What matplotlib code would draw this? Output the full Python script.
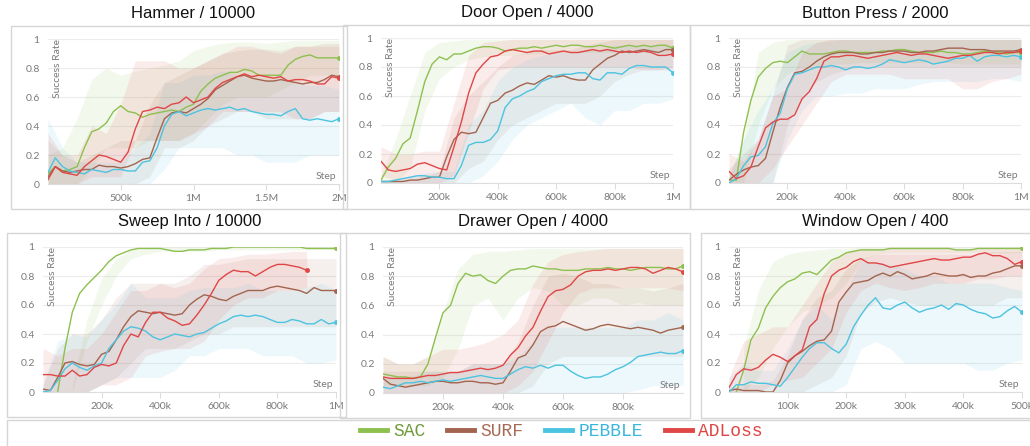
import numpy as np
import matplotlib
matplotlib.use("Agg")
import matplotlib.pyplot as plt
from matplotlib.lines import Line2D
from matplotlib.patches import Rectangle

W, H = 1030, 446
nan = np.nan

methods = ["SAC", "SURF", "PEBBLE", "ADLoss"]
line_colors = ["#8dc04f", "#a3644f", "#4cc3e0", "#e04646"]
text_colors = ["#6f9a3a", "#a86a55", "#3bb6dc", "#e04444"]

# ---------------- Hammer / 10000 (0 - 2M) ----------------
hammer_sac = [0.07, 0.12, 0.09, 0.10, 0.12, 0.25, 0.36, 0.38, 0.42, 0.50, 0.54, 0.50, 0.49, 0.46, 0.48, 0.49, 0.50, 0.51, 0.50, 0.53, 0.55,
              0.64, 0.69, 0.73, 0.75, 0.77, 0.77, 0.79, 0.78, 0.75, 0.75, 0.75, 0.75, 0.82, 0.86, 0.88, 0.89, 0.87, 0.87, 0.87, 0.87]
hammer_surf = [0.05, 0.12, 0.09, 0.08, 0.09, 0.10, 0.10, 0.13, 0.12, 0.12, 0.11, 0.12, 0.14, 0.17, 0.18, 0.32, 0.45, 0.49, 0.50, 0.49, 0.52,
               0.55, 0.59, 0.65, 0.68, 0.71, 0.74, 0.75, 0.73, 0.72, 0.71, 0.71, 0.72, 0.71, 0.70, 0.69, 0.70, 0.70, 0.72, 0.75, 0.74]
hammer_pebble = [0.08, 0.18, 0.12, 0.09, 0.08, 0.07, 0.10, 0.09, 0.08, 0.10, 0.10, 0.09, 0.09, 0.15, 0.16, 0.25, 0.40, 0.48, 0.50, 0.47, 0.49,
                 0.51, 0.52, 0.51, 0.52, 0.53, 0.51, 0.52, 0.50, 0.49, 0.48, 0.48, 0.47, 0.50, 0.52, 0.45, 0.44, 0.45, 0.44, 0.43, 0.45]
hammer_adloss = [0.03, 0.12, 0.08, 0.07, 0.06, 0.12, 0.16, 0.20, 0.19, 0.17, 0.15, 0.22, 0.38, 0.50, 0.51, 0.53, 0.52, 0.55, 0.56, 0.60, 0.56,
                 0.58, 0.60, 0.66, 0.70, 0.72, 0.74, 0.76, 0.74, 0.75, 0.74, 0.73, 0.74, 0.71, 0.72, 0.72, 0.71, 0.69, 0.69, 0.74, 0.73]
hammer_sac_lo = [0.0, 0.0, 0.0, 0.1, 0.25, 0.25, 0.25, 0.3, 0.3, 0.3, 0.35, 0.45, 0.55, 0.6, 0.6, 0.6, 0.65, 0.7, 0.75, 0.75, 0.75]
hammer_sac_hi = [0.2, 0.25, 0.45, 0.72, 0.8, 0.75, 0.78, 0.8, 0.82, 0.85, 0.92, 0.95, 0.97, 0.98, 0.98, 0.97, 0.98, 0.99, 0.99, 0.99, 0.99]
hammer_surf_lo = [0.0, 0.0, 0.0, 0.0, 0.0, 0.0, 0.0, 0.05, 0.25, 0.25, 0.3, 0.4, 0.45, 0.5, 0.5, 0.45, 0.45, 0.45, 0.45, 0.5, 0.5]
hammer_surf_hi = [0.3, 0.2, 0.15, 0.2, 0.25, 0.3, 0.3, 0.55, 0.7, 0.75, 0.8, 0.85, 0.9, 0.92, 0.93, 0.93, 0.92, 0.95, 0.95, 0.97, 0.97]
hammer_pebble_lo = [0.0, 0.0, 0.0, 0.0, 0.0, 0.0, 0.0, 0.0, 0.1, 0.25, 0.25, 0.25, 0.25, 0.2, 0.2, 0.15, 0.15, 0.15, 0.2, 0.2, 0.2]
hammer_pebble_hi = [0.45, 0.25, 0.15, 0.15, 0.15, 0.15, 0.25, 0.35, 0.7, 0.7, 0.75, 0.75, 0.78, 0.75, 0.72, 0.72, 0.72, 0.7, 0.68, 0.68, 0.65]
hammer_adloss_lo = [0.0, 0.0, 0.0, 0.05, 0.05, 0.05, 0.3, 0.3, 0.3, 0.3, 0.35, 0.4, 0.5, 0.5, 0.5, 0.5, 0.5, 0.45, 0.45, 0.5, 0.5]
hammer_adloss_hi = [0.35, 0.2, 0.2, 0.4, 0.35, 0.55, 0.85, 0.85, 0.85, 0.8, 0.8, 0.85, 0.9, 0.95, 0.95, 0.92, 0.9, 0.95, 0.95, 0.95, 0.95]
hammer_ticks = [500e3, 1e6, 1.5e6, 2e6]
hammer_ticklabels = ["500k", "1M", "1.5M", "2M"]

# ---------------- Door Open / 4000 (0 - 1M) ----------------
door_sac = [0.02, 0.11, 0.17, 0.27, 0.31, 0.50, 0.70, 0.82, 0.87, 0.85, 0.89, 0.89, 0.91, 0.93, 0.94, 0.94, 0.93, 0.91, 0.92, 0.93, 0.93,
            0.94, 0.93, 0.94, 0.95, 0.94, 0.95, 0.95, 0.94, 0.94, 0.95, 0.94, 0.93, 0.94, 0.95, 0.94, 0.95, 0.94, 0.95, 0.95, 0.93]
door_surf = [0.01, 0.01, 0.01, 0.01, 0.02, 0.02, 0.03, 0.04, 0.04, 0.18, 0.30, 0.35, 0.34, 0.35, 0.45, 0.55, 0.57, 0.62, 0.64, 0.67, 0.69,
             0.68, 0.71, 0.74, 0.73, 0.74, 0.72, 0.71, 0.71, 0.78, 0.82, 0.86, 0.88, 0.91, 0.90, 0.91, 0.92, 0.91, 0.90, 0.92, 0.92]
door_pebble = [0.01, 0.01, 0.02, 0.03, 0.04, 0.05, 0.05, 0.04, 0.04, 0.03, 0.03, 0.12, 0.26, 0.28, 0.28, 0.30, 0.36, 0.52, 0.58, 0.60, 0.63,
               0.65, 0.70, 0.72, 0.74, 0.75, 0.75, 0.76, 0.76, 0.72, 0.71, 0.76, 0.76, 0.75, 0.79, 0.81, 0.81, 0.80, 0.80, 0.80, 0.76]
door_adloss = [0.15, 0.09, 0.08, 0.09, 0.10, 0.13, 0.14, 0.12, 0.10, 0.09, 0.25, 0.42, 0.62, 0.76, 0.82, 0.87, 0.88, 0.91, 0.92, 0.91, 0.90,
               0.91, 0.91, 0.89, 0.90, 0.91, 0.90, 0.90, 0.91, 0.92, 0.91, 0.92, 0.91, 0.90, 0.91, 0.90, 0.91, 0.90, 0.88, 0.88, 0.89]
door_sac_lo = [0.0, 0.0, 0.1, 0.5, 0.72, 0.8, 0.85, 0.87, 0.88, 0.88, 0.89, 0.89, 0.9, 0.9, 0.9, 0.9, 0.9, 0.9, 0.9, 0.9, 0.88]
door_sac_hi = [0.05, 0.3, 0.6, 0.9, 0.97, 0.98, 0.99, 0.99, 0.99, 0.99, 0.99, 0.99, 0.99, 0.99, 0.99, 0.99, 0.99, 0.99, 0.99, 0.99, 0.99]
door_surf_lo = [0.0, 0.0, 0.0, 0.0, 0.0, 0.0, 0.1, 0.15, 0.3, 0.4, 0.45, 0.5, 0.55, 0.55, 0.55, 0.6, 0.7, 0.75, 0.78, 0.78, 0.8]
door_surf_hi = [0.02, 0.02, 0.03, 0.05, 0.08, 0.45, 0.6, 0.7, 0.8, 0.88, 0.9, 0.92, 0.92, 0.92, 0.95, 0.97, 0.99, 0.99, 0.99, 0.99, 0.99]
door_pebble_lo = [0.0, 0.0, 0.0, 0.0, 0.0, 0.0, 0.0, 0.05, 0.15, 0.3, 0.4, 0.45, 0.5, 0.55, 0.45, 0.4, 0.5, 0.5, 0.55, 0.55, 0.58]
door_pebble_hi = [0.02, 0.03, 0.05, 0.07, 0.08, 0.08, 0.4, 0.5, 0.7, 0.8, 0.85, 0.88, 0.9, 0.9, 0.92, 0.92, 0.95, 0.95, 0.95, 0.95, 0.95]
door_adloss_lo = [0.05, 0.02, 0.0, 0.0, 0.0, 0.05, 0.35, 0.65, 0.78, 0.8, 0.8, 0.8, 0.8, 0.8, 0.8, 0.8, 0.8, 0.8, 0.78, 0.78, 0.78]
door_adloss_hi = [0.25, 0.2, 0.2, 0.22, 0.22, 0.55, 0.88, 0.97, 0.98, 0.99, 0.99, 0.99, 0.99, 0.99, 0.99, 0.99, 0.99, 0.99, 0.99, 0.99, 0.99]
million_ticks = [200e3, 400e3, 600e3, 800e3, 1e6]
million_ticklabels = ["200k", "400k", "600k", "800k", "1M"]

# ---------------- Button Press / 2000 (0 - 1M) ----------------
button_sac = [0.02, 0.02, 0.35, 0.57, 0.73, 0.79, 0.83, 0.84, 0.83, 0.87, 0.91, 0.89, 0.89, 0.89, 0.90, 0.91, 0.91, 0.90, 0.90, 0.90, 0.90,
              0.91, 0.91, 0.92, 0.92, 0.91, 0.90, 0.90, 0.90, 0.91, 0.90, 0.90, 0.89, 0.89, 0.90, 0.91, 0.90, 0.90, 0.89, 0.90, 0.90]
button_surf = [0.02, 0.06, 0.09, 0.11, 0.12, 0.17, 0.35, 0.52, 0.66, 0.76, 0.77, 0.80, 0.84, 0.87, 0.89, 0.90, 0.90, 0.90, 0.89, 0.89, 0.90,
               0.90, 0.91, 0.91, 0.91, 0.90, 0.90, 0.91, 0.91, 0.92, 0.93, 0.93, 0.93, 0.92, 0.92, 0.92, 0.91, 0.91, 0.91, 0.91, 0.92]
button_pebble = [0.00, 0.03, 0.12, 0.18, 0.19, 0.25, 0.41, 0.48, 0.65, 0.75, 0.76, 0.78, 0.80, 0.80, 0.81, 0.80, 0.78, 0.80, 0.80, 0.79, 0.80,
                 0.82, 0.85, 0.84, 0.83, 0.84, 0.85, 0.84, 0.82, 0.83, 0.84, 0.86, 0.86, 0.88, 0.84, 0.87, 0.88, 0.88, 0.87, 0.88, 0.87]
button_adloss = [0.08, 0.03, 0.05, 0.11, 0.25, 0.38, 0.42, 0.44, 0.44, 0.47, 0.58, 0.63, 0.72, 0.84, 0.87, 0.87, 0.88, 0.88, 0.87, 0.86, 0.87,
                 0.88, 0.89, 0.90, 0.89, 0.88, 0.89, 0.89, 0.88, 0.87, 0.86, 0.87, 0.88, 0.88, 0.89, 0.90, 0.90, 0.89, 0.90, 0.90, 0.91]
button_sac_lo = [0.0, 0.0, 0.4, 0.65, 0.75, 0.8, 0.8, 0.82, 0.82, 0.83, 0.83, 0.83, 0.83, 0.83, 0.83, 0.83, 0.82, 0.82, 0.82, 0.82, 0.82]
button_sac_hi = [0.05, 0.3, 0.9, 0.97, 0.99, 0.99, 0.99, 0.99, 0.99, 0.99, 0.99, 0.99, 0.99, 0.99, 0.99, 0.99, 0.99, 0.99, 0.99, 0.99, 0.99]
button_surf_lo = [0.0, 0.0, 0.0, 0.0, 0.4, 0.6, 0.7, 0.75, 0.78, 0.8, 0.8, 0.8, 0.8, 0.8, 0.8, 0.8, 0.8, 0.8, 0.8, 0.8, 0.8]
button_surf_hi = [0.1, 0.2, 0.3, 0.6, 0.95, 0.99, 0.99, 0.99, 0.99, 0.99, 0.99, 0.99, 0.99, 0.99, 0.99, 0.99, 0.99, 0.99, 0.99, 0.99, 0.99]
button_pebble_lo = [0.0, 0.0, 0.0, 0.0, 0.3, 0.5, 0.6, 0.6, 0.62, 0.62, 0.65, 0.65, 0.65, 0.68, 0.7, 0.7, 0.7, 0.7, 0.72, 0.72, 0.7]
button_pebble_hi = [0.05, 0.3, 0.5, 0.65, 0.9, 0.95, 0.97, 0.98, 0.99, 0.99, 0.99, 0.99, 0.99, 0.99, 0.99, 0.99, 0.99, 0.99, 0.99, 0.99, 0.99]
button_adloss_lo = [0.0, 0.0, 0.0, 0.1, 0.25, 0.4, 0.55, 0.7, 0.75, 0.75, 0.75, 0.75, 0.72, 0.72, 0.72, 0.72, 0.65, 0.65, 0.7, 0.72, 0.75]
button_adloss_hi = [0.2, 0.15, 0.3, 0.6, 0.65, 0.9, 0.97, 0.99, 0.99, 0.99, 0.99, 0.99, 0.99, 0.99, 0.99, 0.99, 0.99, 0.99, 0.99, 0.99, 0.99]

# ---------------- Sweep Into / 10000 (0 - 1M) ----------------
sweep_sac = [nan, nan, 0.0, 0.30, 0.55, 0.68, 0.74, 0.79, 0.84, 0.90, 0.94, 0.96, 0.98, 0.99, 0.99, 0.99, 0.99, 0.98, 0.97, 0.97, 0.98,
             0.98, 0.98, 0.99, 0.99, 0.99, 1.0, 1.0, 1.0, 1.0, 1.0, 1.0, 1.0, 1.0, 1.0, 1.0, 0.99, 0.99, 0.99, 0.99, 0.99]
sweep_surf = [0.02, 0.01, 0.10, 0.20, 0.21, 0.19, 0.18, 0.19, 0.26, 0.28, 0.36, 0.45, 0.52, 0.56, 0.55, 0.54, 0.55, 0.54, 0.53, 0.54, 0.60,
              0.64, 0.67, 0.66, 0.64, 0.63, 0.66, 0.68, 0.70, 0.70, 0.70, 0.72, 0.73, 0.72, 0.71, 0.70, 0.68, 0.72, 0.70, 0.70, 0.70]
sweep_pebble = [0.0, 0.01, 0.08, 0.16, 0.20, 0.17, 0.15, 0.18, 0.20, 0.30, 0.36, 0.42, 0.45, 0.44, 0.42, 0.38, 0.36, 0.38, 0.40, 0.39, 0.38,
                0.40, 0.41, 0.44, 0.47, 0.49, 0.52, 0.53, 0.52, 0.53, 0.52, 0.50, 0.48, 0.48, 0.50, 0.49, 0.47, 0.47, 0.50, 0.47, 0.48]
sweep_adloss = [0.12, 0.12, 0.11, 0.11, 0.15, 0.11, 0.12, 0.17, 0.19, 0.18, 0.20, 0.32, 0.40, 0.38, 0.48, 0.55, 0.55, 0.51, 0.49, 0.46, 0.47,
                0.53, 0.60, 0.68, 0.77, 0.81, 0.84, 0.83, 0.83, 0.80, 0.83, 0.86, 0.88, 0.88, 0.87, 0.86, 0.84]
sweep_sac_lo = [nan, nan, 0.0, 0.35, 0.6, 0.8, 0.92, 0.95, 0.97, 0.97, 0.97, 0.97, 0.98, 0.98, 0.98, 0.98, 0.98, 0.98, 0.98, 0.98, 0.98]
sweep_sac_hi = [nan, nan, 0.05, 0.5, 0.78, 0.92, 0.98, 0.99, 1.0, 1.0, 1.0, 1.0, 1.0, 1.0, 1.0, 1.0, 1.0, 1.0, 1.0, 1.0, 1.0]
sweep_surf_lo = [0.0, 0.0, 0.0, 0.0, 0.05, 0.1, 0.2, 0.3, 0.3, 0.3, 0.35, 0.4, 0.4, 0.45, 0.45, 0.45, 0.45, 0.45, 0.45, 0.45, 0.45]
sweep_surf_hi = [0.05, 0.3, 0.4, 0.4, 0.5, 0.65, 0.75, 0.75, 0.75, 0.75, 0.8, 0.88, 0.88, 0.9, 0.92, 0.92, 0.92, 0.92, 0.92, 0.92, 0.92]
sweep_pebble_lo = [0.0, 0.0, 0.0, 0.0, 0.05, 0.1, 0.1, 0.1, 0.1, 0.15, 0.25, 0.25, 0.3, 0.3, 0.3, 0.25, 0.25, 0.25, 0.2, 0.2, 0.22]
sweep_pebble_hi = [0.05, 0.35, 0.4, 0.38, 0.5, 0.6, 0.75, 0.65, 0.65, 0.65, 0.7, 0.72, 0.72, 0.72, 0.75, 0.7, 0.7, 0.7, 0.72, 0.75, 0.7]
sweep_adloss_lo = [0.0, 0.0, 0.0, 0.0, 0.05, 0.05, 0.1, 0.25, 0.28, 0.3, 0.3, 0.35, 0.5, 0.6, 0.65, 0.65, 0.7, 0.7, 0.72]
sweep_adloss_hi = [0.3, 0.25, 0.3, 0.3, 0.4, 0.55, 0.7, 0.7, 0.75, 0.72, 0.75, 0.85, 0.92, 0.93, 0.95, 0.95, 0.96, 0.97, 0.97]

# ---------------- Drawer Open / 4000 (0 - 1M) ----------------
drawer_sac = [0.13, 0.12, 0.11, 0.11, 0.10, 0.11, 0.20, 0.38, 0.55, 0.60, 0.75, 0.82, 0.80, 0.81, 0.77, 0.75, 0.80, 0.84, 0.85, 0.85, 0.87,
              0.86, 0.85, 0.85, 0.84, 0.84, 0.84, 0.85, 0.85, 0.85, 0.86, 0.85, 0.85, 0.84, 0.85, 0.86, 0.86, 0.86, 0.85, 0.85, 0.87]
drawer_surf = [0.10, 0.06, 0.05, 0.04, 0.05, 0.06, 0.07, 0.08, 0.08, 0.07, 0.07, 0.08, 0.08, 0.07, 0.07, 0.06, 0.07, 0.15, 0.24, 0.26, 0.33,
               0.42, 0.45, 0.46, 0.49, 0.47, 0.45, 0.43, 0.44, 0.46, 0.47, 0.46, 0.45, 0.44, 0.45, 0.44, 0.43, 0.41, 0.43, 0.44, 0.45]
drawer_pebble = [0.04, 0.03, 0.05, 0.07, 0.07, 0.08, 0.07, 0.08, 0.09, 0.08, 0.09, 0.10, 0.11, 0.12, 0.11, 0.10, 0.10, 0.13, 0.16, 0.18, 0.17,
                 0.19, 0.17, 0.19, 0.19, 0.15, 0.12, 0.10, 0.11, 0.11, 0.13, 0.16, 0.18, 0.21, 0.25, 0.26, 0.27, 0.28, 0.27, 0.27, 0.29]
drawer_adloss = [0.11, 0.10, 0.10, 0.10, 0.10, 0.11, 0.12, 0.12, 0.13, 0.14, 0.14, 0.15, 0.16, 0.17, 0.16, 0.17, 0.19, 0.26, 0.31, 0.39, 0.45,
                 0.56, 0.66, 0.70, 0.71, 0.74, 0.80, 0.83, 0.84, 0.84, 0.85, 0.84, 0.85, 0.86, 0.86, 0.85, 0.82, 0.84, 0.86, 0.85, 0.83]
drawer_sac_lo = [0.05, 0.05, 0.05, 0.05, 0.1, 0.3, 0.6, 0.65, 0.5, 0.65, 0.72, 0.7, 0.6, 0.6, 0.65, 0.65, 0.6, 0.62, 0.6, 0.6, 0.6]
drawer_sac_hi = [0.25, 0.2, 0.2, 0.25, 0.55, 0.85, 0.95, 0.97, 0.97, 0.98, 0.99, 0.99, 0.99, 0.99, 0.99, 0.99, 0.99, 0.99, 0.99, 0.99, 0.99]
drawer_surf_lo = [0.0, 0.0, 0.0, 0.0, 0.0, 0.0, 0.0, 0.0, 0.0, 0.0, 0.05, 0.2, 0.25, 0.25, 0.25, 0.25, 0.25, 0.25, 0.25, 0.25, 0.25]
drawer_surf_hi = [0.15, 0.15, 0.15, 0.15, 0.15, 0.15, 0.2, 0.2, 0.2, 0.35, 0.6, 0.8, 0.82, 0.8, 0.75, 0.75, 0.72, 0.72, 0.7, 0.72, 0.75]
drawer_pebble_lo = [0.0, 0.0, 0.0, 0.0, 0.0, 0.0, 0.0, 0.0, 0.0, 0.0, 0.0, 0.0, 0.0, 0.0, 0.0, 0.0, 0.0, 0.02, 0.05, 0.05, 0.05]
drawer_pebble_hi = [0.1, 0.1, 0.12, 0.15, 0.15, 0.15, 0.2, 0.2, 0.2, 0.25, 0.35, 0.45, 0.45, 0.45, 0.45, 0.45, 0.45, 0.5, 0.5, 0.55, 0.5]
drawer_adloss_lo = [0.0, 0.0, 0.0, 0.0, 0.0, 0.0, 0.0, 0.0, 0.0, 0.05, 0.15, 0.35, 0.55, 0.68, 0.72, 0.72, 0.72, 0.72, 0.72, 0.72, 0.7]
drawer_adloss_hi = [0.25, 0.2, 0.2, 0.25, 0.3, 0.3, 0.32, 0.35, 0.4, 0.5, 0.75, 0.9, 0.95, 0.97, 0.98, 0.99, 0.99, 0.99, 0.99, 0.99, 0.99]
drawer_ticks = [200e3, 400e3, 600e3, 800e3]
drawer_ticklabels = ["200k", "400k", "600k", "800k"]

# ---------------- Window Open / 400 (0 - 500k) ----------------
window_sac = [nan, 0.0, 0.15, 0.36, 0.44, 0.58, 0.66, 0.72, 0.76, 0.78, 0.82, 0.83, 0.81, 0.86, 0.91, 0.93, 0.96, 0.97, 0.98, 0.98, 0.98,
              0.98, 0.99, 0.99, 0.99, 0.99, 0.99, 0.99, 0.99, 0.99, 0.99, 0.98, 0.98, 0.98, 0.99, 0.99, 0.99, 0.99, 0.99, 0.99, 0.99]
window_surf = [0.01, 0.02, 0.01, 0.01, 0.01, 0.0, 0.0, 0.08, 0.20, 0.25, 0.28, 0.32, 0.35, 0.36, 0.42, 0.62, 0.69, 0.75, 0.76, 0.77, 0.80,
               0.82, 0.80, 0.83, 0.81, 0.78, 0.79, 0.80, 0.82, 0.81, 0.80, 0.80, 0.81, 0.79, 0.80, 0.80, 0.82, 0.83, 0.85, 0.87, 0.87]
window_pebble = [0.0, 0.05, 0.05, 0.07, 0.06, 0.06, 0.05, 0.04, 0.10, 0.17, 0.24, 0.30, 0.34, 0.34, 0.30, 0.27, 0.33, 0.45, 0.53, 0.60, 0.65,
                 0.58, 0.57, 0.60, 0.62, 0.58, 0.55, 0.57, 0.58, 0.60, 0.57, 0.61, 0.60, 0.57, 0.55, 0.54, 0.51, 0.52, 0.56, 0.59, 0.55]
window_adloss = [0.03, 0.12, 0.16, 0.15, 0.17, 0.22, 0.26, 0.24, 0.21, 0.25, 0.29, 0.45, 0.50, 0.68, 0.80, 0.84, 0.86, 0.90, 0.92, 0.89, 0.89,
                 0.88, 0.86, 0.87, 0.88, 0.89, 0.90, 0.91, 0.92, 0.91, 0.91, 0.92, 0.93, 0.93, 0.95, 0.96, 0.94, 0.94, 0.92, 0.88, 0.90]
window_sac_lo = [nan, 0.0, 0.1, 0.3, 0.45, 0.55, 0.6, 0.65, 0.75, 0.9, 0.95, 0.96, 0.96, 0.96, 0.96, 0.96, 0.96, 0.96, 0.96, 0.96, 0.96]
window_sac_hi = [nan, 0.3, 0.7, 0.9, 0.95, 0.97, 0.98, 0.99, 0.99, 1.0, 1.0, 1.0, 1.0, 1.0, 1.0, 1.0, 1.0, 1.0, 1.0, 1.0, 1.0]
window_surf_lo = [0.0, 0.0, 0.0, 0.0, 0.0, 0.0, 0.05, 0.1, 0.25, 0.55, 0.62, 0.65, 0.62, 0.6, 0.6, 0.6, 0.6, 0.6, 0.6, 0.65, 0.65]
window_surf_hi = [0.02, 0.05, 0.05, 0.08, 0.25, 0.5, 0.65, 0.7, 0.85, 0.92, 0.95, 0.95, 0.95, 0.95, 0.95, 0.95, 0.95, 0.95, 0.97, 0.97, 0.97]
window_pebble_lo = [0.0, 0.0, 0.0, 0.0, 0.0, 0.0, 0.0, 0.0, 0.05, 0.3, 0.35, 0.3, 0.2, 0.2, 0.2, 0.2, 0.2, 0.15, 0.15, 0.2, 0.22]
window_pebble_hi = [0.1, 0.2, 0.15, 0.15, 0.3, 0.5, 0.6, 0.5, 0.7, 0.9, 0.9, 0.88, 0.85, 0.8, 0.8, 0.75, 0.75, 0.75, 0.75, 0.72, 0.7]
window_adloss_lo = [0.0, 0.0, 0.0, 0.05, 0.08, 0.1, 0.2, 0.3, 0.55, 0.7, 0.75, 0.72, 0.7, 0.72, 0.75, 0.75, 0.75, 0.78, 0.78, 0.8, 0.8]
window_adloss_hi = [0.1, 0.35, 0.4, 0.45, 0.45, 0.6, 0.75, 0.9, 0.97, 0.99, 0.99, 0.99, 0.99, 0.99, 0.99, 0.99, 0.99, 0.99, 0.99, 0.99, 0.99]
window_ticks = [100e3, 200e3, 300e3, 400e3, 500e3]
window_ticklabels = ["100k", "200k", "300k", "400k", "500k"]

y_ticks = [0, 0.2, 0.4, 0.6, 0.8, 1.0]
y_ticklabels = ["0", "0.2", "0.4", "0.6", "0.8", "1"]

# panel layout in pixels: axes (left, top, right, bottom) and frame box
panels = [
    ("Hammer / 10000", 2e6, hammer_ticks, hammer_ticklabels, (48, 39, 339, 184), (11, 26, 347, 209),
     [hammer_sac, hammer_surf, hammer_pebble, hammer_adloss],
     [(hammer_sac_lo, hammer_sac_hi), (hammer_surf_lo, hammer_surf_hi), (hammer_pebble_lo, hammer_pebble_hi), (hammer_adloss_lo, hammer_adloss_hi)]),
    ("Door Open / 4000", 1e6, million_ticks, million_ticklabels, (381, 38, 673, 183), (343, 25, 690, 209),
     [door_sac, door_surf, door_pebble, door_adloss],
     [(door_sac_lo, door_sac_hi), (door_surf_lo, door_surf_hi), (door_pebble_lo, door_pebble_hi), (door_adloss_lo, door_adloss_hi)]),
    ("Button Press / 2000", 1e6, million_ticks, million_ticklabels, (729, 38, 1021, 183), (690, 25, 1034, 209),
     [button_sac, button_surf, button_pebble, button_adloss],
     [(button_sac_lo, button_sac_hi), (button_surf_lo, button_surf_hi), (button_pebble_lo, button_pebble_hi), (button_adloss_lo, button_adloss_hi)]),
    ("Sweep Into / 10000", 1e6, million_ticks, million_ticklabels, (43, 247, 336, 392), (7, 233, 346, 417),
     [sweep_sac, sweep_surf, sweep_pebble, sweep_adloss],
     [(sweep_sac_lo, sweep_sac_hi), (sweep_surf_lo, sweep_surf_hi), (sweep_pebble_lo, sweep_pebble_hi), (sweep_adloss_lo, sweep_adloss_hi)]),
    ("Drawer Open / 4000", 1e6, drawer_ticks, drawer_ticklabels, (383, 247, 683, 393), (340, 233, 690, 418),
     [drawer_sac, drawer_surf, drawer_pebble, drawer_adloss],
     [(drawer_sac_lo, drawer_sac_hi), (drawer_surf_lo, drawer_surf_hi), (drawer_pebble_lo, drawer_pebble_hi), (drawer_adloss_lo, drawer_adloss_hi)]),
    ("Window Open / 400", 5e5, window_ticks, window_ticklabels, (729, 247, 1022, 392), (701, 233, 1034, 418),
     [window_sac, window_surf, window_pebble, window_adloss],
     [(window_sac_lo, window_sac_hi), (window_surf_lo, window_surf_hi), (window_pebble_lo, window_pebble_hi), (window_adloss_lo, window_adloss_hi)]),
]

tick_font = "Lato"
gray = "#7a7a7a"

fig = plt.figure(figsize=(W / 100, H / 100), dpi=100)
fig.patch.set_facecolor("white")


def fig_rect(l, t, r, b):
    return [l / W, 1 - b / H, (r - l) / W, (b - t) / H]


for title, total, xt, xtl, box, frame, means, bands in panels:
    # light frame around each panel
    fl, ft, fr, fb = fig_rect(*frame)
    fig.add_artist(Rectangle((fl, ft), fr, fb, transform=fig.transFigure,
                             fill=False, edgecolor="#d6d6d6", linewidth=1.0))

    ax = fig.add_axes(fig_rect(*box))
    x_mean = np.linspace(0, total, 41)
    x_band = np.linspace(0, total, 21)
    for i in range(4):
        lo, hi = bands[i]
        ax.fill_between(x_band[:len(lo)], lo, hi, color=line_colors[i], alpha=0.1, linewidth=0)
    for i in range(4):
        vals = means[i]
        xs = x_mean[:len(vals)]
        ax.plot(xs, vals, color=line_colors[i], linewidth=1.0)
        ax.plot(xs[-1], vals[-1], "o", color=line_colors[i], markersize=2.5)

    ax.set_xlim(0, total)
    ax.set_ylim(0, 1.0)
    ax.set_yticks(y_ticks)
    ax.set_yticklabels(y_ticklabels)
    ax.set_xticks(xt)
    ax.set_xticklabels(xtl)
    ax.grid(axis="y", color="#ececec", linewidth=0.8)
    ax.set_axisbelow(True)
    for s in ["top", "right", "left"]:
        ax.spines[s].set_visible(False)
    ax.spines["bottom"].set_color("#dddddd")
    ax.tick_params(axis="y", length=0, pad=6, labelsize=7.5, labelcolor=gray)
    ax.tick_params(axis="x", length=4, color="#dddddd", pad=3, labelsize=7.5, labelcolor=gray)
    for lab in ax.get_xticklabels() + ax.get_yticklabels():
        lab.set_fontfamily(tick_font)

    ax.text(0.018, 1.0, "Success Rate", transform=ax.transAxes, rotation=90, ha="left", va="top",
            fontsize=7.5, color=gray, family=tick_font)
    ax.text(0.99, 0.02, "Step", transform=ax.transAxes, ha="right", va="bottom",
            fontsize=7.5, color=gray, family=tick_font)
    ax.text(0.5, 1 + 25 / 145, title, transform=ax.transAxes, ha="center", va="center",
            fontsize=12, color="#111111", family="Liberation Sans")

# legend box below the panels
fig.add_artist(Rectangle((7 / W, -0.05), (1034 - 7) / W, (446 - 420) / H + 0.05, transform=fig.transFigure,
                         fill=False, edgecolor="#d6d6d6", linewidth=1.0))

handles = [Line2D([0], [0], color=c, linewidth=3.5) for c in line_colors]
leg = fig.legend(handles, methods, ncol=4, loc="center", bbox_to_anchor=(561 / W, 1 - 432 / H),
                 frameon=False, handlelength=1.5, handletextpad=0.35, columnspacing=1.2,
                 prop={"family": "Liberation Mono", "size": 13})
for t, c in zip(leg.get_texts(), text_colors):
    t.set_color(c)

fig.savefig("out.png", dpi=100, facecolor="white")
